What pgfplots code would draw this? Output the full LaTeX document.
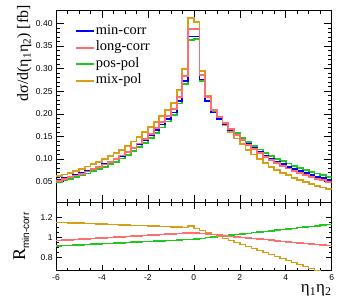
\documentclass[border=0pt]{standalone}
\usepackage{fontspec}
\setmainfont{Liberation Serif}
\newfontfamily\sansf{Liberation Sans}
\usepackage{pgfplots}
\usepackage{pgfplotstable}
\pgfplotsset{compat=1.18}
\definecolor{cblue}{RGB}{0,0,255}
\definecolor{cred}{RGB}{255,110,110}
\definecolor{cgreen}{RGB}{30,200,30}
\definecolor{corange}{RGB}{215,160,20}

\pgfplotstableread{
x minc longc pos mix
-6.00 0.0540 0.05226 0.04937 0.06211
-5.75 0.0574 0.05574 0.05264 0.06588
-5.50 0.0611 0.05953 0.05620 0.06999
-5.25 0.0650 0.06355 0.05997 0.07431
-5.00 0.0691 0.06779 0.06395 0.07884
-4.75 0.0735 0.07235 0.06822 0.08369
-4.50 0.0781 0.07714 0.07271 0.08875
-4.25 0.0831 0.08235 0.07760 0.09424
-4.00 0.0884 0.08790 0.08280 0.10006
-3.75 0.0940 0.09378 0.08830 0.10618
-3.50 0.1000 0.10010 0.09422 0.11273
-3.25 0.1073 0.10776 0.10140 0.12071
-3.00 0.1152 0.11609 0.10919 0.12935
-2.75 0.1237 0.12506 0.11759 0.13861
-2.50 0.1327 0.13460 0.12652 0.14839
-2.25 0.1425 0.14502 0.13626 0.15902
-2.00 0.1529 0.15611 0.14663 0.17028
-1.75 0.1641 0.16809 0.15783 0.18238
-1.50 0.1762 0.18108 0.16996 0.19542
-1.25 0.1891 0.19496 0.18294 0.20930
-1.00 0.2030 0.20996 0.19695 0.22423
-0.75 0.2290 0.23763 0.22282 0.25243
-0.50 0.2720 0.28315 0.26542 0.29920
-0.25 0.3710 0.38744 0.36306 0.41255
0.00 0.3710 0.38703 0.36473 0.40365
0.25 0.2760 0.28641 0.27307 0.29532
0.50 0.2290 0.23635 0.22799 0.24045
0.75 0.2030 0.20840 0.20339 0.20909
1.00 0.1891 0.19307 0.19063 0.19099
1.25 0.1762 0.17893 0.17874 0.17444
1.50 0.1641 0.16572 0.16748 0.15918
1.75 0.1529 0.15357 0.15701 0.14526
2.00 0.1425 0.14233 0.14722 0.13253
2.25 0.1327 0.13181 0.13793 0.12076
2.50 0.1237 0.12218 0.12934 0.11009
2.75 0.1152 0.11315 0.12118 0.10022
3.00 0.1073 0.10479 0.11353 0.09121
3.25 0.1000 0.09711 0.10644 0.08300
3.50 0.0940 0.09076 0.10064 0.07614
3.75 0.0884 0.08486 0.09520 0.06984
4.00 0.0831 0.07931 0.09001 0.06399
4.25 0.0781 0.07411 0.08508 0.05858
4.50 0.0735 0.06933 0.08053 0.05366
4.75 0.0691 0.06480 0.07614 0.04906
5.00 0.0650 0.06059 0.07203 0.04485
5.25 0.0611 0.05662 0.06809 0.04094
5.50 0.0574 0.05287 0.06432 0.03731
5.75 0.0540 0.04944 0.06085 0.03402
6.00 0.0540 0.04944 0.06085 0.03402
}\histdata

\pgfplotstableread{
x longc pos mix
-6.00 0.9677 0.9142 1.1501
-5.75 0.9710 0.9170 1.1478
-5.50 0.9743 0.9198 1.1455
-5.25 0.9777 0.9226 1.1433
-5.00 0.9810 0.9254 1.1410
-4.75 0.9843 0.9282 1.1387
-4.50 0.9877 0.9310 1.1364
-4.25 0.9910 0.9338 1.1341
-4.00 0.9943 0.9366 1.1319
-3.75 0.9977 0.9394 1.1296
-3.50 1.0010 0.9422 1.1273
-3.25 1.0043 0.9450 1.1250
-3.00 1.0077 0.9478 1.1228
-2.75 1.0110 0.9506 1.1205
-2.50 1.0143 0.9534 1.1182
-2.25 1.0177 0.9562 1.1159
-2.00 1.0210 0.9590 1.1137
-1.75 1.0243 0.9618 1.1114
-1.50 1.0277 0.9646 1.1091
-1.25 1.0310 0.9674 1.1068
-1.00 1.0343 0.9702 1.1046
-0.75 1.0377 0.9730 1.1023
-0.50 1.0410 0.9758 1.1000
-0.25 1.0443 0.9786 1.1120
0.00 1.0432 0.9831 1.0880
0.25 1.0377 0.9894 1.0700
0.50 1.0321 0.9956 1.0500
0.75 1.0266 1.0019 1.0300
1.00 1.0210 1.0081 1.0100
1.25 1.0155 1.0144 0.9900
1.50 1.0099 1.0206 0.9700
1.75 1.0044 1.0269 0.9500
2.00 0.9988 1.0331 0.9300
2.25 0.9933 1.0394 0.9100
2.50 0.9877 1.0456 0.8900
2.75 0.9822 1.0519 0.8700
3.00 0.9766 1.0581 0.8500
3.25 0.9711 1.0644 0.8300
3.50 0.9655 1.0706 0.8100
3.75 0.9600 1.0769 0.7900
4.00 0.9544 1.0831 0.7700
4.25 0.9489 1.0894 0.7500
4.50 0.9433 1.0956 0.7300
4.75 0.9378 1.1019 0.7100
5.00 0.9322 1.1081 0.6900
5.25 0.9267 1.1144 0.6700
5.50 0.9211 1.1206 0.6500
5.75 0.9156 1.1269 0.6300
6.00 0.9156 1.1269 0.6300
}\ratiodata

\pgfplotsset{
  rootax/.style={
    scale only axis, width=275.7bp,
    xmin=-6, xmax=6,
    axis line style={line width=0.8bp},
    every tick/.style={black, line width=0.6bp},
    major tick length=8bp, minor tick length=4bp,
    tick align=inside,
    xtick={-6,-4,-2,0,2,4,6}, minor x tick num=3,
    xtick pos=both, ytick pos=both,
    tick label style={font=\sansf\fontsize{8.5}{10}\selectfont},
    /pgf/number format/assume math mode=true,
    hist/.style={const plot, line width=1.8bp, mark=none},
  }
}

\begin{document}
\begin{tikzpicture}
\begin{axis}[rootax, name=top, height=192.7bp,
  ymin=0.0035, ymax=0.4295,
  ytick={0.05,0.1,0.15,0.2,0.25,0.3,0.35,0.4}, minor y tick num=4,
  yticklabel style={/pgf/number format/.cd, fixed, fixed zerofill, precision=2},
  xticklabels={},
  legend style={at={(rel axis cs:0.058,0.942)}, anchor=north west, draw=none, fill=none,
    font=\fontsize{14.5}{16}\selectfont, row sep=1bp,
    nodes={inner sep=1bp, text height=10bp, text depth=3.5bp}},
  legend cell align=left,
  legend image code/.code={\draw[#1, line width=1.8bp] (0bp,0bp) -- (18bp,0bp);},
]
\addplot[hist, cgreen, forget plot] table[x=x, y=pos] {\histdata};
\addplot[hist, corange, forget plot] table[x=x, y=mix] {\histdata};
\addplot[hist, cblue, forget plot] table[x=x, y=minc] {\histdata};
\addplot[hist, cred, forget plot] table[x=x, y=longc] {\histdata};
\addlegendimage{draw=cblue}
\addlegendentry{min-corr}
\addlegendimage{draw=cred}
\addlegendentry{long-corr}
\addlegendimage{draw=cgreen}
\addlegendentry{pos-pol}
\addlegendimage{draw=corange}
\addlegendentry{mix-pol}
\end{axis}
\begin{axis}[rootax, name=bot, at={(top.south west)}, anchor=north west, height=68bp,
  ymin=0.666, ymax=1.346,
  ytick={0.8,1,1.2}, minor y tick num=3,
  major tick length=6bp, minor tick length=3bp,
]
\addplot[hist, line width=1.5bp, cgreen] table[x=x, y=pos] {\ratiodata};
\addplot[hist, line width=1.5bp, corange] table[x=x, y=mix] {\ratiodata};
\addplot[hist, line width=1.5bp, cred] table[x=x, y=longc] {\ratiodata};
\end{axis}
\node[rotate=90, anchor=base east, inner sep=0pt, font=\fontsize{16}{18}\selectfont]
  at ([xshift=-28bp, yshift=5bp]top.north west) {dσ/d(η\textsubscript{1}η\textsubscript{2}) [fb]};
\node[rotate=90, anchor=base, inner sep=0pt]
  at ([xshift=-31bp]bot.west) {\fontsize{18}{20}\selectfont R\raisebox{-4bp}{\sansf\fontsize{10}{12}\selectfont min-corr}};
\node[anchor=base east, inner sep=0pt, font=\fontsize{17}{19}\selectfont]
  at ([yshift=-22bp]bot.south east) {η\textsubscript{1}η\textsubscript{2}};
\path ([xshift=-56bp, yshift=10bp]top.north west) rectangle ([xshift=17.3bp, yshift=-36.3bp]bot.south east);
\end{tikzpicture}
\end{document}
